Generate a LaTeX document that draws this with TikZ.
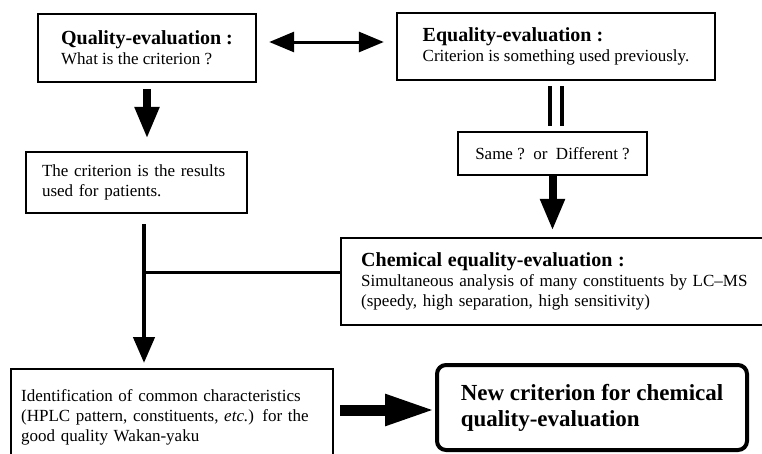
\documentclass[tikz,border=0pt]{standalone}
\usepackage{fontspec}
\setmainfont{Liberation Serif}
\usetikzlibrary{arrows.meta}

\newcommand{\headfont}{\fontsize{20}{20}\selectfont\bfseries}

\tikzset{
    box/.style={draw, line width=2.4pt, align=left, inner sep=0pt,
        font=\fontsize{17}{20}\selectfont},
    fatarrow/.style={line width=8pt, -{Triangle[length=32pt,width=23pt]}},
    thinarrow/.style={line width=4.5pt, -{Triangle[length=26pt,width=21pt]}},
    eqline/.style={line width=3.5pt, shorten <=5pt, shorten >=5pt}
}

\begin{document}
\begin{tikzpicture}[x=1pt, y=-1pt]
        % Fix the page size
        \useasboundingbox (0,0) rectangle (762,453);
        
        % Upper row
        \node[box, minimum width=218pt, minimum height=68pt] (qual) at (147,48)
            {{\headfont Quality-evaluation :}\\What is the criterion ?};
        \node[box, minimum width=318pt, minimum height=67pt] (equal) at (556,46.5)
            {{\headfont Equality-evaluation :}\\Criterion is something used previously.};
        
        % Second row
        \node[box, minimum width=189pt, minimum height=43pt] (same) at (552.5,153.5)
            {Same ?\ \ or\ \ Different ?};
        \node[box, minimum height=61pt, text width=189pt, inner xsep=16pt] (crit) at (136.5,182.5)
            {The criterion is the results\\used for patients.};
        
        % Chemical analysis (runs off the right edge)
        \node[box, anchor=west, minimum height=87pt, text width=400pt, inner xsep=20pt] (chem) at (340,281.5)
            {{\headfont Chemical equality-evaluation :}\\Simultaneous analysis of many constituents by LC--MS\\(speedy, high separation, high sensitivity)};
        
        % Bottom row
        \node[box, anchor=north west, minimum height=96pt, text width=302pt, inner xsep=10pt] (ident) at (10,368)
            {Identification of common characteristics\\(HPLC pattern, constituents, \textit{etc.}) for the\\good quality Wakan-yaku};
        \node[box, line width=4pt, rounded corners=9pt, minimum width=310pt, minimum height=85pt,
            font=\fontsize{23}{26}\selectfont\bfseries] (newc) at (592,407.5)
            {New criterion for chemical\\quality-evaluation};
        
        % Connectors
        \draw[line width=3pt, {Triangle[length=25pt,width=20pt]}-{Triangle[length=25pt,width=20pt]}]
            ([xshift=12pt,yshift=6pt]qual.east) -- ([xshift=-12pt,yshift=4.5pt]equal.west);
        \draw[fatarrow, shorten <=6pt, shorten >=12pt] (qual.south) -- (qual.south |- crit.north);
        \draw[eqline] ([xshift=-6pt]equal.south) -- ([xshift=-6pt]equal.south |- same.north);
        \draw[eqline] ([xshift=6pt]equal.south) -- ([xshift=6pt]equal.south |- same.north);
        \draw[fatarrow, shorten >=6pt] (same.south) -- (same.south |- chem.north);
        
        % Left branch joining the chemical box
        \coordinate (down) at ([xshift=7.5pt]crit.south);
        \coordinate (side) at ([yshift=9.5pt]chem.west);
        \coordinate (join) at (down |- side);
        \draw[thinarrow, shorten <=10pt, shorten >=5pt] (down) -- (down |- ident.north);
        \draw[line width=3pt] (side) -- (join);
        
        % Towards the new criterion
        \coordinate (tip) at ([yshift=-2.5pt]newc.west);
        \draw[line width=11pt, -{Triangle[length=50pt,width=29pt]}, shorten <=6pt]
            (tip -| ident.east) -- (tip);
        
    \end{tikzpicture}
\end{document}
